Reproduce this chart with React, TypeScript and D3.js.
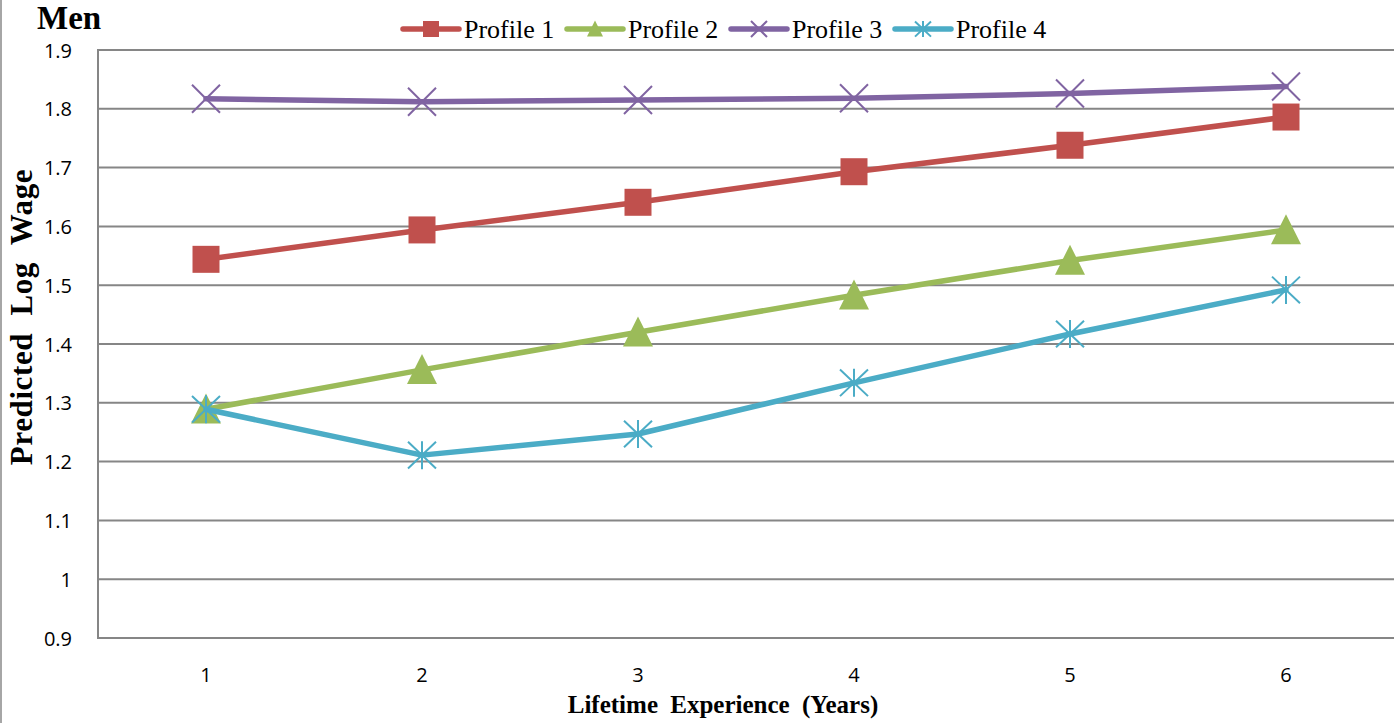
import React from "react";
import * as d3 from "d3";

// Lifetime experience categories (years)
const years = ["1", "2", "3", "4", "5", "6"];

// Predicted log wage per profile
const profile1 = [1.544, 1.594, 1.641, 1.693, 1.738, 1.786];
const profile2 = [1.289, 1.356, 1.420, 1.483, 1.542, 1.594];
const profile3 = [1.817, 1.812, 1.815, 1.818, 1.826, 1.838];
const profile4 = [1.289, 1.211, 1.247, 1.334, 1.417, 1.492];

const seriesNames = ["Profile 1", "Profile 2", "Profile 3", "Profile 4"];
const yTicks = [0.9, 1, 1.1, 1.2, 1.3, 1.4, 1.5, 1.6, 1.7, 1.8, 1.9];

const W = 1400;
const H = 723;
const plot = { left: 98, right: 1394, top: 50, bottom: 638 };

const colors = ["#C0504D", "#9BBB59", "#8064A2", "#4BACC6"];
const markerKinds = ["square", "triangle", "x", "star"];

function markerPath(kind: string, s: number): string {
  const h = s / 2;
  if (kind === "square") return d3.symbol(d3.symbolSquare, s * s)() as string;
  if (kind === "triangle")
    return `M0,${-h * 1.05}L${h},${h * 0.95}L${-h},${h * 0.95}Z`;
  if (kind === "x") return `M${-h},${-h}L${h},${h}M${-h},${h}L${h},${-h}`;
  // star: x plus a vertical bar
  return `M${-h},${-h * 0.95}L${h},${h * 0.95}M${-h},${h * 0.95}L${h},${-h * 0.95}M0,${-h}L0,${h}`;
}

function Marker({ kind, color, x, y, size }: { kind: string; color: string; x: number; y: number; size: number }) {
  const filled = kind === "square" || kind === "triangle";
  return (
    <path
      d={markerPath(kind, size)}
      transform={`translate(${x},${y})`}
      fill={filled ? color : "none"}
      stroke={color}
      strokeWidth={filled ? 0 : 2}
    />
  );
}

export default function App() {
  const series = [profile1, profile2, profile3, profile4];
  const x = d3.scaleBand<string>().domain(years).range([plot.left, plot.right]);
  const y = d3.scaleLinear().domain([0.9, 1.9]).range([plot.bottom, plot.top]);
  const cx = (k: string) => (x(k) as number) + x.bandwidth() / 2;

  const line = d3
    .line<number>()
    .x((_, i) => cx(years[i]))
    .y((v) => y(v));

  const grid = "#868686";
  const markerSizes = [27, 30, 28, 28];

  return (
    <svg width={W} height={H} style={{ position: "absolute", left: 0, top: 0, background: "#fff" }}>
      <rect x={0} y={0} width={W} height={H} fill="#fff" />
      {/* outer chart border */}
      <line x1={1} x2={1} y1={0} y2={H} stroke="#a6a6a6" strokeWidth={2} />

      {/* title */}
      <text x={37} y={29} fontFamily="Liberation Serif" fontWeight="bold" fontSize={33} fill="#000">
        Men
      </text>

      {/* horizontal gridlines */}
      {yTicks.map((t) => (
        <line key={t} x1={plot.left} x2={plot.right} y1={y(t)} y2={y(t)} stroke={grid} strokeWidth={2} />
      ))}
      {/* left axis */}
      <line x1={plot.left} x2={plot.left} y1={plot.top - 1} y2={plot.bottom + 1} stroke={grid} strokeWidth={2} />

      {/* y tick labels */}
      {yTicks.map((t) => (
        <text
          key={t}
          x={72}
          y={y(t) + 7.5}
          textAnchor="end"
          fontFamily="Open Sans"
          fontSize={20}
          fill="#000"
        >
          {d3.format("~g")(t)}
        </text>
      ))}

      {/* x tick labels */}
      {years.map((k) => (
        <text key={k} x={cx(k)} y={682} textAnchor="middle" fontFamily="Open Sans" fontSize={20} fill="#000">
          {k}
        </text>
      ))}

      {/* axis titles */}
      <text
        x={723}
        y={713}
        textAnchor="middle"
        fontFamily="Liberation Serif"
        fontWeight="bold"
        fontSize={25}
        wordSpacing={6}
        fill="#000"
      >
        Lifetime Experience (Years)
      </text>
      <text
        transform={`translate(32,317) rotate(-90)`}
        textAnchor="middle"
        fontFamily="Liberation Serif"
        fontWeight="bold"
        fontSize={31}
        wordSpacing={9}
        letterSpacing={0.6}
        fill="#000"
      >
        Predicted Log Wage
      </text>

      {/* series lines and markers */}
      {series.map((vals, si) => (
        <g key={si}>
          <path d={line(vals) as string} fill="none" stroke={colors[si]} strokeWidth={5.5} strokeLinejoin="round" strokeLinecap="round" />
          {vals.map((v, i) => (
            <Marker key={i} kind={markerKinds[si]} color={colors[si]} x={cx(years[i])} y={y(v)} size={markerSizes[si]} />
          ))}
        </g>
      ))}

      {/* legend */}
      {seriesNames.map((name, si) => {
        const x0 = 403 + si * 164;
        const ly = 29;
        return (
          <g key={name}>
            <line x1={x0} x2={x0 + 56} y1={ly} y2={ly} stroke={colors[si]} strokeWidth={5.5} strokeLinecap="round" />
            <Marker kind={markerKinds[si]} color={colors[si]} x={x0 + 28} y={ly} size={16} />
            <text x={x0 + 61} y={ly + 9} fontFamily="Liberation Serif" fontSize={26} fill="#000">
              {name}
            </text>
          </g>
        );
      })}
    </svg>
  );
}
